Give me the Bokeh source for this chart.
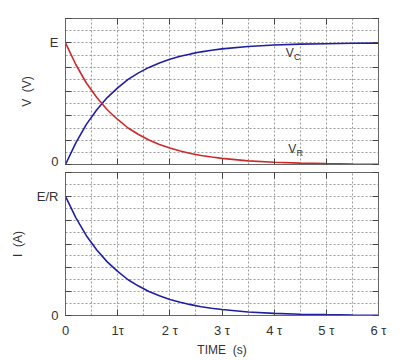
from bokeh.plotting import figure
from bokeh.layouts import column
from bokeh.models import FixedTicker, LinearAxis, Label, Range1d, Grid
from bokeh.embed import file_html
from bokeh.resources import INLINE

# time in units of tau
t = [0, 0.2, 0.4, 0.6, 0.8, 1.0, 1.2, 1.4, 1.6, 1.8, 2.0, 2.2, 2.4, 2.6, 2.8, 3.0,
     3.5, 4.0, 4.5, 5.0, 5.5, 6.0]
# capacitor voltage (fraction of E)
vc = [0, 0.18, 0.33, 0.45, 0.55, 0.63, 0.70, 0.753, 0.798, 0.835, 0.865, 0.889,
      0.909, 0.926, 0.939, 0.95, 0.97, 0.982, 0.989, 0.993, 0.996, 0.998]
# resistor voltage (fraction of E)
vr = [1.0, 0.82, 0.67, 0.55, 0.45, 0.37, 0.30, 0.247, 0.202, 0.165, 0.135, 0.111,
      0.091, 0.074, 0.061, 0.05, 0.03, 0.018, 0.011, 0.007, 0.004, 0.002]
# current (fraction of E/R)
cur = [1.0, 0.82, 0.67, 0.55, 0.45, 0.37, 0.30, 0.247, 0.202, 0.165, 0.135, 0.111,
       0.091, 0.074, 0.061, 0.05, 0.03, 0.018, 0.011, 0.007, 0.004, 0.002]

x_ticks = [0, 1, 2, 3, 4, 5, 6]
x_minor = [0.5, 1.5, 2.5, 3.5, 4.5, 5.5]
x_labels = ["0", "1τ", "2 τ", "3 τ", "4 τ", "5 τ", "6 τ"]
y_ticks = [0, 0.2, 0.4, 0.6, 0.8, 1.0, 1.2]
y_minor = [0.1, 0.3, 0.5, 0.7, 0.9, 1.1]
top_y_labels = {0: "0", 1.0: "E"}
bot_y_labels = {0: "0", 1.0: "E/R"}

BLUE = "#1f1fa6"
RED = "#cc2a2a"
FRAME = "#666666"
GRIDC = "#9a9a9a"
FONT = "Liberation Sans"
NB = "\u00a0"


def add_axis(p, side, ticks, minor, labels, show_labels, axis_label=None, label_standoff=8):
    ax = LinearAxis(ticker=FixedTicker(ticks=ticks, minor_ticks=minor))
    ax.axis_line_color = FRAME
    ax.major_tick_line_color = "#444444"
    ax.major_tick_in = 6
    ax.major_tick_out = 0
    ax.minor_tick_line_color = None
    ov = {}
    for tk in ticks:
        ov[tk] = labels.get(tk, "") if show_labels else ""
    ax.major_label_overrides = ov
    ax.major_label_text_font = FONT
    ax.major_label_text_color = "#333333"
    if show_labels:
        ax.major_label_text_font_size = "13px"
        ax.major_label_standoff = 3
    else:
        ax.major_label_text_font_size = "0px"
        ax.major_label_standoff = 0
    if axis_label:
        ax.axis_label = axis_label
        ax.axis_label_text_font = FONT
        ax.axis_label_text_font_size = "12px"
        ax.axis_label_text_font_style = "normal"
        ax.axis_label_text_color = "#333333"
        ax.axis_label_standoff = label_standoff
    p.add_layout(ax, side)
    return ax


def make_fig(frame_h, top_b, bot_b):
    p = figure(frame_width=313, frame_height=frame_h,
               x_range=Range1d(0, 6), y_range=Range1d(0, 1.2),
               x_axis_type=None, y_axis_type=None,
               output_backend="svg", toolbar_location=None,
               min_border_left=65, min_border_right=20,
               min_border_top=top_b, min_border_bottom=bot_b)
    p.outline_line_color = FRAME
    p.background_fill_color = "white"
    p.border_fill_color = "white"
    for dim, tk, mn in ((0, x_ticks, x_minor), (1, y_ticks, y_minor)):
        g = Grid(dimension=dim, ticker=FixedTicker(ticks=tk, minor_ticks=mn))
        g.grid_line_color = GRIDC
        g.grid_line_dash = "2 2"
        g.minor_grid_line_color = GRIDC
        g.minor_grid_line_dash = "2 2"
        p.add_layout(g)
    return p


# ---- top panel: voltages ----
p1 = make_fig(146, 18, 4)
xl = dict(zip(x_ticks, x_labels))
add_axis(p1, "below", x_ticks, x_minor, xl, False)
add_axis(p1, "left", y_ticks, y_minor, top_y_labels, True, "V" + NB + NB + "(V)", label_standoff=13)
add_axis(p1, "above", x_ticks, x_minor, xl, False)
add_axis(p1, "right", y_ticks, y_minor, top_y_labels, False)
p1.line(t, vc, line_color=BLUE, line_width=1.6)
p1.line(t, vr, line_color=RED, line_width=1.6)
p1.add_layout(Label(x=4.22, y=0.855, text="V", text_font=FONT, text_font_size="12px",
                    text_color="#333333"))
p1.add_layout(Label(x=4.38, y=0.84, text="C", text_font=FONT, text_font_size="9px",
                    text_color="#333333"))
p1.add_layout(Label(x=4.27, y=0.07, text="V", text_font=FONT, text_font_size="12px",
                    text_color="#333333"))
p1.add_layout(Label(x=4.43, y=0.055, text="R", text_font=FONT, text_font_size="9px",
                    text_color="#333333"))

# ---- bottom panel: current ----
p2 = make_fig(143, 4, 26)
add_axis(p2, "below", x_ticks, x_minor, xl, True, "TIME" + NB + NB + "(s)", label_standoff=2)
add_axis(p2, "left", y_ticks, y_minor, bot_y_labels, True, "I" + NB + NB + "(A)", label_standoff=9)
add_axis(p2, "above", x_ticks, x_minor, xl, False)
add_axis(p2, "right", y_ticks, y_minor, bot_y_labels, False)
p2.line(t, cur, line_color=BLUE, line_width=1.6)

layout = column(p1, p2, spacing=0)
open("out.html", "w").write(file_html(layout, INLINE))
